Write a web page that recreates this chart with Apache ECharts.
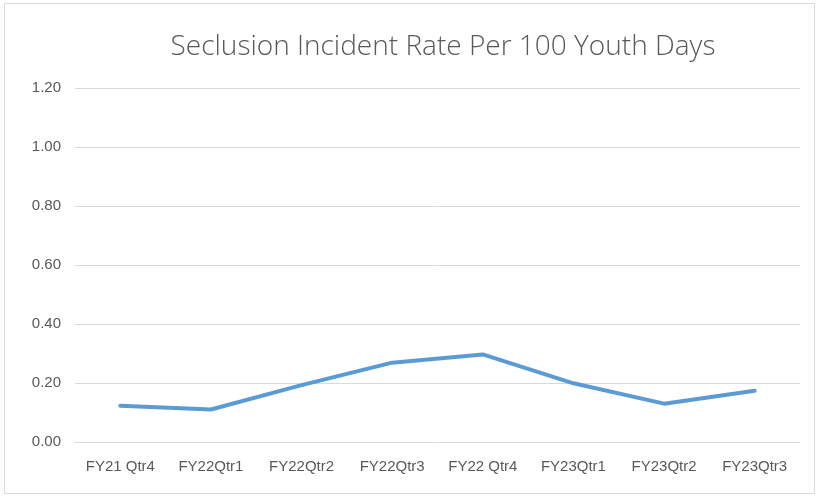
<!DOCTYPE html>
<html>
<head>
<meta charset="utf-8">
<script src="https://cdn.jsdelivr.net/npm/echarts@6/dist/echarts.min.js"></script>
<style>
    html, body { margin: 0; padding: 0; background: #fff; }
    #frame { position: absolute; left: 4px; top: 3px; width: 809px; height: 489px; border: 1px solid #d9d9d9; }
    #chart { position: absolute; left: 0; top: 0; width: 817px; height: 497px; }
</style>
</head>
<body>
<div id="frame"></div>
<div id="chart"></div>
<script>
    // quarters on the x axis
    const quarters = ['FY21 Qtr4', 'FY22Qtr1', 'FY22Qtr2', 'FY22Qtr3', 'FY22 Qtr4', 'FY23Qtr1', 'FY23Qtr2', 'FY23Qtr3'];
    // seclusion incidents per 100 youth days
    const rates = [0.123, 0.110, 0.193, 0.269, 0.297, 0.199, 0.130, 0.174];

    const chart = echarts.init(document.getElementById('chart'));
    const option = {
        animation: false,
        title: {
            text: 'Seclusion Incident Rate Per 100 Youth Days',
            left: 438,
            textAlign: 'center',
            top: 28,
            textStyle: {
                fontFamily: 'Open Sans',
                fontWeight: 300,
                fontSize: 28,
                color: '#595959'
            }
        },
        grid: {
            left: 75,
            right: 17,
            top: 88,
            bottom: 55
        },
        xAxis: {
            type: 'category',
            data: quarters,
            boundaryGap: true,
            axisLine: { lineStyle: { color: '#d9d9d9' } },
            axisTick: { show: false },
            axisLabel: {
                interval: 0,
                hideOverlap: false,
                color: '#595959',
                fontFamily: 'Liberation Sans',
                fontSize: 15,
                margin: 17
            }
        },
        yAxis: {
            type: 'value',
            min: 0,
            max: 1.2,
            interval: 0.2,
            axisLine: { show: false },
            axisTick: { show: false },
            splitLine: { lineStyle: { color: '#d9d9d9', width: 1 } },
            axisLabel: {
                color: '#595959',
                fontFamily: 'Liberation Sans',
                fontSize: 15,
                margin: 14,
                formatter: v => v.toFixed(2)
            }
        },
        series: [
            {
                type: 'line',
                data: rates,
                symbol: 'none',
                lineStyle: { color: '#5b9bd5', width: 4, cap: 'round', join: 'round' }
            }
        ]
    };
    chart.setOption(option);
</script>
</body>
</html>
